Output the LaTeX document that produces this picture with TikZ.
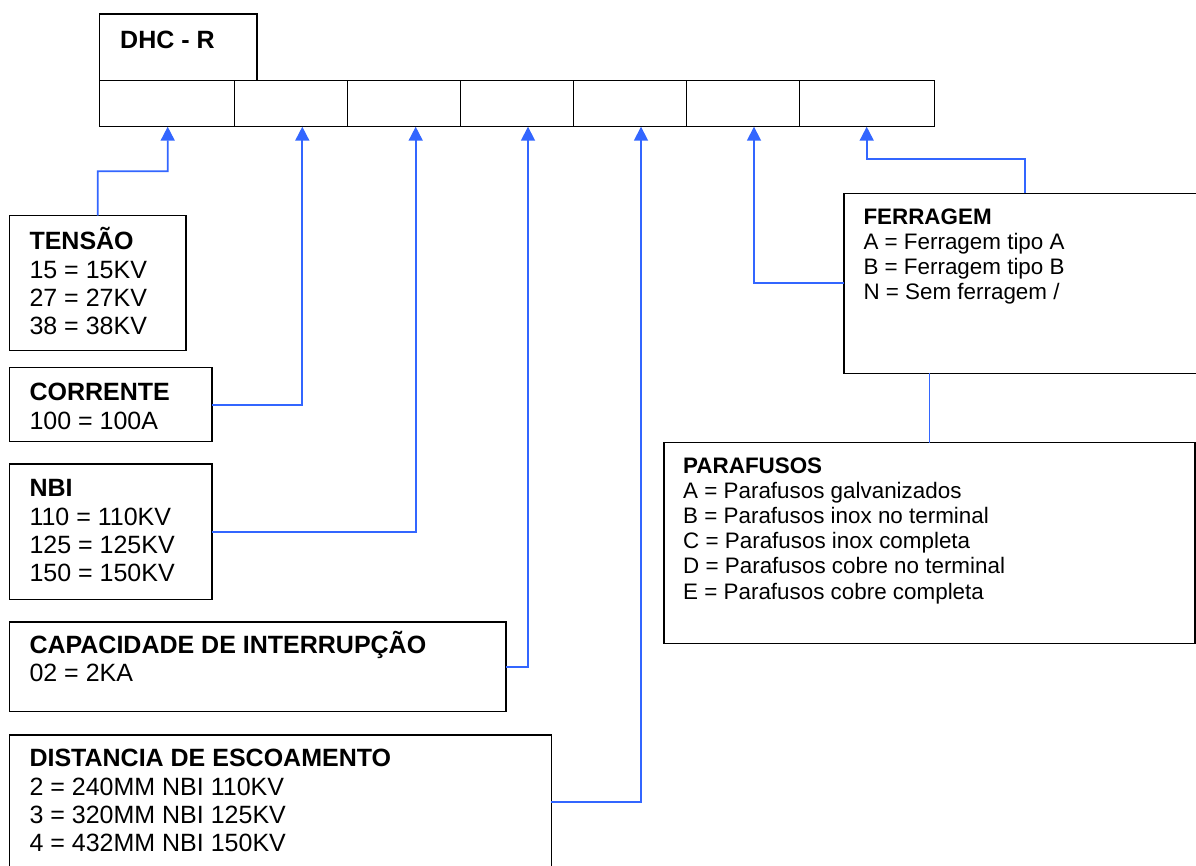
\documentclass[tikz,border=0pt]{standalone}
\usepackage{fontspec}
\setmainfont{Liberation Sans}
\usetikzlibrary{arrows.meta,positioning}
\definecolor{wire}{HTML}{3366FF}
\tikzset{cell/.style={draw,line width=1.5pt,inner sep=0pt,outer sep=0pt,minimum height=46pt},box/.style={draw,line width=1.5pt,inner sep=0pt,outer sep=0pt,anchor=north west},link/.style={draw=wire,line width=1.7pt,-{Triangle[length=14pt,width=14pt]}},tie/.style={draw=wire,line width=1.7pt},big/.style={font=\fontsize{25}{28.4}\selectfont,anchor=base west,inner sep=0pt},small/.style={font=\fontsize{22.4}{25.1}\selectfont,anchor=base west,inner sep=0pt}}
\newcommand{\rows}[1]{\begin{tabular}[t]{@{}l@{}}#1\end{tabular}}
\begin{document}
\begin{tikzpicture}[x=1pt,y=-1pt]
\clip (0,0) rectangle (1196,865);
% code row
\node[box,minimum width=157.5pt,minimum height=66.7pt] (dhc) at (99.5,14) {};
\node[big] (dhctxt) at (120,48.7) {\textbf{DHC - R}};
\node[cell,minimum width=135.2pt,anchor=north west] (c1) at (99.5,80.7) {};
\foreach \i/\j in {2/1,3/2,4/3,5/4,6/5}{\node[cell,minimum width=113pt,right=0pt of c\j] (c\i) {};}
\node[cell,minimum width=134.6pt,right=0pt of c6] (c7) {};
\foreach \i/\x in {1/167.7,2/302.3,3/415.7,4/528,5/641,6/754,7/866.7}{\coordinate (a\i) at (\x,126.7);}
% left boxes
\node[box,minimum width=176.7pt,minimum height=135pt] (tensao) at (9.3,215.7) {};
\node[box,minimum width=202.7pt,minimum height=74pt] (corrente) at (9.3,367.7) {};
\node[box,minimum width=202.7pt,minimum height=135.3pt] (nbi) at (9.3,464) {};
\node[box,minimum width=496.7pt,minimum height=89.7pt] (cap) at (9.3,622) {};
\node[box,minimum width=542pt,minimum height=134pt] (dist) at (9.3,735) {};
\node[big] (tensaotxt) at (29.3,249.7) {\rows{\textbf{TENSÃO}\\15 = 15KV\\27 = 27KV\\38 = 38KV}};
\node[big] (correntetxt) at (29.3,400.7) {\rows{\textbf{CORRENTE}\\100 = 100A}};
\node[big] (nbitxt) at (29.3,496.7) {\rows{\textbf{NBI}\\110 = 110KV\\125 = 125KV\\150 = 150KV}};
\node[big] (captxt) at (29.3,653.5) {\rows{\textbf{CAPACIDADE DE INTERRUPÇÃO}\\02 = 2KA}};
\node[big] (disttxt) at (29.3,766.7) {\rows{\textbf{DISTANCIA DE ESCOAMENTO}\\2 = 240MM NBI 110KV\\3 = 320MM NBI 125KV\\4 = 432MM NBI 150KV}};
% right boxes
\node[box,minimum width=362.6pt,minimum height=180pt] (ferr) at (844,193.3) {};
\node[box,minimum width=531pt,minimum height=201pt] (paraf) at (664,442.5) {};
\node[small] (ferrtxt) at (863.3,224) {\rows{\textbf{FERRAGEM}\\A = Ferragem tipo A\\B = Ferragem tipo B\\N = Sem ferragem /}};
\node[small] (paraftxt) at (683,473.5) {\rows{\textbf{PARAFUSOS}\\A = Parafusos galvanizados\\B = Parafusos inox no terminal\\C = Parafusos inox completa\\D = Parafusos cobre no terminal\\E = Parafusos cobre completa}};
% connectors
\draw[link] (tensao.north) -- (97.7,171.3) -| (a1);
\draw[link] (corrente.east) -| (a2);
\draw[link] (nbi.east) -| (a3);
\draw[link] (cap.east) -| (a4);
\draw[link] (dist.east) -| (a5);
\draw[link] (ferr.west) -| (a6);
\draw[link] (ferr.north) |- (866.7,159.3) -- (a7);
\draw[tie] (paraf.north) -- (paraf.north |- ferr.south);
\end{tikzpicture}
\end{document}
